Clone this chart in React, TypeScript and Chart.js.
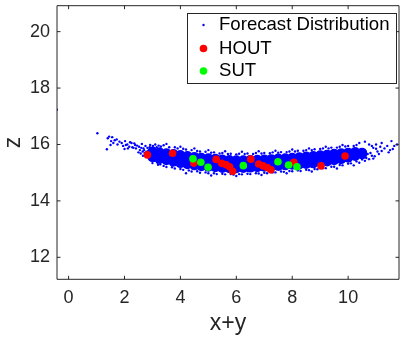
import { useEffect, useRef } from 'react';
import { Chart, registerables } from 'chart.js';

Chart.register(...registerables);

// ---- axis settings ----
const xTickValues = [0, 2, 4, 6, 8, 10];
const yTickValues = [12, 14, 16, 18, 20];
const xLimits = [-0.415, 11.82];
const yLimits = [11.22, 20.92];
const xTitle = 'x+y';
const yTitle = 'z';

// ---- Forecast Distribution: scattered samples (x+y, z) ----
const forecastSamples: [number, number][] = [
  [-0.42, 17.23],
  [1.03, 16.4], [1.4, 16.22], [1.56, 16.26], [1.52, 16.12], [1.6, 16.05], [1.37, 15.83], [1.72, 16.18],
  [1.82, 16.1], [1.95, 15.95], [2.0, 15.84], [2.02, 16.12], [2.1, 16.0], [2.17, 15.92], [2.25, 16.05],
  [2.32, 15.88], [2.35, 16.04], [2.41, 15.86], [2.45, 15.96], [2.52, 15.92], [2.55, 15.8], [2.6, 15.88],
  [2.62, 16.02], [2.65, 15.75], [2.68, 15.86], [2.72, 15.7], [2.75, 15.95], [2.78, 15.62], [2.82, 15.88],
  [2.85, 15.78], [2.88, 15.52], [2.92, 15.98], [2.95, 15.45], [2.98, 15.85],
  [2.5, 15.72], [2.58, 15.68], [2.66, 15.6], [2.7, 15.8], [2.78, 15.74], [2.86, 15.66], [2.9, 15.9],
  [2.94, 15.6], [3.02, 15.95], [3.05, 15.5], [3.08, 15.42], [3.15, 15.9], [3.18, 15.35], [3.22, 15.96],
  [3.28, 15.3], [1.9, 16.05], [1.65, 16.15], [1.75, 16.0], [2.05, 15.98], [2.2, 16.08], [2.28, 15.9],
  [2.38, 15.98], [1.45, 16.28], [1.5, 15.98], [2.12, 15.86],
  [3.1, 16.0], [3.3, 15.93], [3.4, 15.97], [3.6, 15.9], [3.8, 15.9], [3.9, 15.86], [4.1, 15.85],
  [4.2, 15.82], [4.4, 15.8], [4.6, 15.77], [4.7, 15.75], [4.9, 15.74], [5.1, 15.71], [5.2, 15.72],
  [5.4, 15.68], [5.5, 15.7], [5.7, 15.66], [5.8, 15.67], [6.0, 15.65], [6.1, 15.67], [6.3, 15.66],
  [6.4, 15.68], [6.6, 15.66], [6.7, 15.7], [6.9, 15.68], [7.0, 15.7], [7.2, 15.69], [7.3, 15.72],
  [7.5, 15.71], [7.6, 15.73], [7.8, 15.73], [7.9, 15.75], [8.1, 15.75], [8.2, 15.78], [8.4, 15.78],
  [8.5, 15.8], [8.7, 15.8], [8.8, 15.83], [9.0, 15.84], [9.1, 15.86], [9.3, 15.86], [9.4, 15.89],
  [9.6, 15.89], [9.7, 15.92], [9.9, 15.93], [10.0, 15.95], [10.2, 15.95], [10.3, 15.98],
  [3.5, 16.02], [4.0, 15.92], [4.5, 15.86], [5.0, 15.8], [5.6, 15.76], [6.2, 15.74], [6.8, 15.76],
  [7.4, 15.78], [8.0, 15.82], [8.6, 15.86], [9.2, 15.92], [9.8, 15.98], [10.4, 16.05], [10.6, 16.1],
  [3.0, 15.34], [3.2, 15.28], [3.4, 15.24], [3.5, 15.2], [3.7, 15.19], [3.8, 15.15], [4.0, 15.13],
  [4.1, 15.1], [4.3, 15.08], [4.4, 15.04], [4.6, 15.05], [4.7, 15.0], [4.9, 15.01], [5.0, 14.98],
  [5.2, 14.98], [5.3, 14.95], [5.5, 14.96], [5.6, 14.94], [5.8, 14.95], [5.9, 14.93], [6.1, 14.95],
  [6.2, 14.94], [6.4, 14.96], [6.5, 14.95], [6.7, 14.98], [6.8, 14.97], [7.0, 15.0], [7.1, 14.98],
  [7.3, 15.01], [7.4, 15.01], [7.6, 15.04], [7.7, 15.03], [7.9, 15.06], [8.0, 15.05], [8.2, 15.08],
  [8.3, 15.06], [8.5, 15.1], [8.6, 15.09], [8.8, 15.13], [8.9, 15.12], [9.1, 15.16], [9.2, 15.16],
  [9.4, 15.21], [9.5, 15.21], [9.7, 15.27], [9.8, 15.26], [10.0, 15.32], [10.1, 15.33], [10.3, 15.4],
  [4.2, 14.98], [5.1, 14.9], [6.0, 14.88], [6.9, 14.92], [7.8, 14.98], [8.7, 15.04], [9.6, 15.15],
  [10.2, 15.26], [10.4, 15.35], [10.6, 15.42], [10.75, 15.48], [10.9, 15.5],
  [10.35, 15.52], [10.4, 15.62], [10.45, 15.68], [10.5, 15.8], [10.5, 15.47], [10.55, 15.58],
  [10.6, 15.75], [10.65, 15.52], [10.7, 15.66], [10.75, 16.0], [10.8, 15.7], [10.85, 15.6],
  [10.9, 15.88], [10.95, 15.58], [11.0, 15.85], [11.05, 15.75], [11.1, 15.66], [11.15, 15.92],
  [11.2, 15.77], [11.3, 15.86], [11.4, 15.95], [11.45, 15.72], [11.5, 15.8], [11.6, 15.84],
  [11.65, 15.95], [11.75, 16.0], [11.2, 16.05], [11.55, 16.12], [11.0, 16.0], [10.85, 15.95],
];

// ---- Forecast Distribution: dense core of the band (upper, middle, lower rows) ----
const coreX = [3.0, 3.25, 3.5, 3.75, 4.0, 4.25, 4.5, 4.75, 5.0, 5.25, 5.5, 5.75, 6.0, 6.25, 6.5,
  6.75, 7.0, 7.25, 7.5, 7.75, 8.0, 8.25, 8.5, 8.75, 9.0, 9.25, 9.5, 9.75, 10.0, 10.25, 10.5];
const coreUpper = [15.75, 15.72, 15.69, 15.66, 15.63, 15.59, 15.56, 15.53, 15.51, 15.49, 15.47, 15.45,
  15.44, 15.44, 15.45, 15.46, 15.47, 15.48, 15.5, 15.51, 15.53, 15.55, 15.57, 15.59, 15.62, 15.64,
  15.67, 15.69, 15.71, 15.73, 15.71];
const coreMiddle = [15.65, 15.6, 15.56, 15.52, 15.48, 15.44, 15.41, 15.38, 15.36, 15.34, 15.32, 15.3,
  15.3, 15.3, 15.31, 15.32, 15.34, 15.35, 15.37, 15.38, 15.4, 15.42, 15.44, 15.46, 15.49, 15.52,
  15.55, 15.58, 15.62, 15.66, 15.68];
const coreLower = [15.55, 15.49, 15.44, 15.39, 15.34, 15.3, 15.26, 15.23, 15.21, 15.19, 15.17, 15.16,
  15.16, 15.17, 15.18, 15.19, 15.21, 15.22, 15.24, 15.26, 15.28, 15.29, 15.31, 15.33, 15.36, 15.4,
  15.44, 15.48, 15.53, 15.59, 15.65];

// ---- HOUT observations ----
const houtX = [2.82, 3.72, 4.48, 5.28, 5.48, 5.64, 5.76, 5.87, 6.52, 6.8, 6.96, 7.11, 7.24, 8.06, 9.03, 9.89];
const houtZ = [15.63, 15.69, 15.34, 15.47, 15.33, 15.28, 15.21, 15.05, 15.48, 15.31, 15.24, 15.18, 15.1, 15.37, 15.24, 15.59];

// ---- SUT observations ----
const sutX = [4.45, 4.73, 4.99, 6.25, 7.49, 7.87, 8.17];
const sutZ = [15.49, 15.37, 15.19, 15.25, 15.39, 15.27, 15.21];

const FONT = '"Liberation Sans", Arial, Helvetica, sans-serif';
const AXIS_COLOR = '#262626';

const framePlugin = {
  id: 'matlabFrame',
  afterDraw(chart: any) {
    const { ctx, chartArea: a, scales } = chart;
    ctx.save();
    ctx.strokeStyle = AXIS_COLOR;
    ctx.lineWidth = 1;
    ctx.beginPath();
    ctx.rect(a.left, a.top, a.right - a.left, a.bottom - a.top);
    const tl = 3.5;
    scales.x.ticks.forEach((t: any) => {
      const px = scales.x.getPixelForValue(t.value);
      ctx.moveTo(px, a.bottom);
      ctx.lineTo(px, a.bottom - tl);
      ctx.moveTo(px, a.top);
      ctx.lineTo(px, a.top + tl);
    });
    scales.y.ticks.forEach((t: any) => {
      const py = scales.y.getPixelForValue(t.value);
      ctx.moveTo(a.left, py);
      ctx.lineTo(a.left + tl, py);
      ctx.moveTo(a.right, py);
      ctx.lineTo(a.right - tl, py);
    });
    ctx.stroke();

    // legend box
    const bx = 187, by = 13, bw = 209, bh = 70;
    ctx.fillStyle = '#ffffff';
    ctx.fillRect(bx, by, bw, bh);
    ctx.strokeStyle = AXIS_COLOR;
    ctx.strokeRect(bx + 0.5, by + 0.5, bw, bh);
    const items = chart.data.datasets.filter((d: any) => d.showInLegend);
    const rowY = [25, 48.5, 71];
    ctx.font = `18.6px ${FONT}`;
    ctx.textBaseline = 'middle';
    ctx.textAlign = 'left';
    items.forEach((d: any, i: number) => {
      const y = rowY[i];
      ctx.beginPath();
      ctx.fillStyle = d.backgroundColor;
      ctx.arc(203.5, y, d.pointRadius, 0, Math.PI * 2);
      ctx.fill();
      ctx.fillStyle = '#000000';
      ctx.fillText(d.label, 219, y);
    });
    ctx.restore();
  },
};

export default function App() {
  const canvasRef = useRef<HTMLCanvasElement | null>(null);

  useEffect(() => {
    if (!canvasRef.current) return;
    const blue = 'rgb(0,0,255)';
    const coreData = [
      ...coreX.map((x, i) => ({ x, y: coreUpper[i] })),
      ...coreX.map((x, i) => ({ x, y: coreMiddle[i] })),
      ...coreX.map((x, i) => ({ x, y: coreLower[i] })),
    ];
    const chart = new Chart(canvasRef.current, {
      type: 'scatter',
      data: {
        datasets: [
          {
            label: 'Forecast Distribution',
            showInLegend: true,
            data: forecastSamples.map(([x, y]) => ({ x, y })),
            backgroundColor: blue,
            borderWidth: 0,
            pointRadius: 1.2,
            order: 4,
          } as any,
          {
            label: 'Forecast Distribution (core)',
            showInLegend: false,
            data: coreData,
            backgroundColor: blue,
            borderWidth: 0,
            pointRadius: 5,
            order: 3,
          } as any,
          {
            label: 'HOUT',
            showInLegend: true,
            data: houtX.map((x, i) => ({ x, y: houtZ[i] })),
            backgroundColor: 'rgb(255,0,0)',
            borderWidth: 0,
            pointRadius: 3.8,
            order: 2,
          } as any,
          {
            label: 'SUT',
            showInLegend: true,
            data: sutX.map((x, i) => ({ x, y: sutZ[i] })),
            backgroundColor: 'rgb(0,255,0)',
            borderWidth: 0,
            pointRadius: 3.8,
            order: 1,
          } as any,
        ],
      },
      options: {
        animation: false,
        responsive: false,
        devicePixelRatio: 1,
        layout: { padding: { top: 5.7, right: 2, left: 0, bottom: 0 } },
        plugins: { legend: { display: false }, tooltip: { enabled: false } },
        scales: {
          x: {
            type: 'linear',
            min: xLimits[0],
            max: xLimits[1],
            afterBuildTicks: (s: any) => { s.ticks = xTickValues.map((v) => ({ value: v })); },
            afterFit: (s: any) => { s.height = 57.7; s.paddingLeft = 0; s.paddingRight = 0; },
            grid: { display: false, drawTicks: false },
            border: { display: false },
            ticks: {
              padding: 8,
              color: AXIS_COLOR,
              font: { family: FONT, size: 18 },
              maxRotation: 0,
              autoSkip: false,
              callback: (v: any) => String(v),
            },
            title: {
              display: true,
              text: xTitle,
              color: AXIS_COLOR,
              font: { family: FONT, size: 23 },
              padding: { top: 0, bottom: 0 },
            },
          },
          y: {
            type: 'linear',
            min: yLimits[0],
            max: yLimits[1],
            afterBuildTicks: (s: any) => { s.ticks = yTickValues.map((v) => ({ value: v })); },
            afterFit: (s: any) => { s.width = 57; s.paddingTop = 0; s.paddingBottom = 0; },
            grid: { display: false, drawTicks: false },
            border: { display: false },
            ticks: {
              padding: 7,
              color: AXIS_COLOR,
              font: { family: FONT, size: 18 },
              autoSkip: false,
              callback: (v: any) => String(v),
            },
            title: {
              display: true,
              text: yTitle,
              color: AXIS_COLOR,
              font: { family: FONT, size: 23 },
              padding: { top: 0, bottom: 0 },
            },
          },
        },
      },
      plugins: [framePlugin],
    } as any);
    return () => chart.destroy();
  }, []);

  return (
    <div style={{ position: 'absolute', left: 0, top: 0, width: 401, height: 337, overflow: 'hidden', background: '#fff' }}>
      <canvas ref={canvasRef} width={404} height={337} style={{ display: 'block', width: 404, height: 337 }} />
    </div>
  );
}
